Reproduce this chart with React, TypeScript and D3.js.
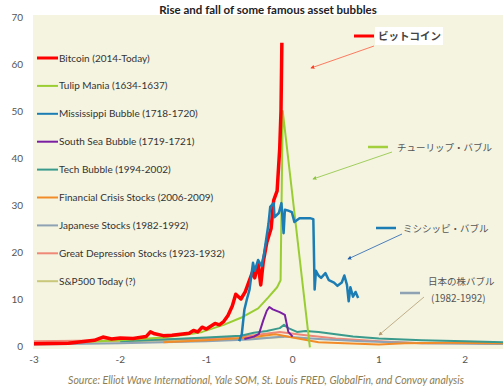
import {useEffect, useRef} from "react";
import * as d3 from "d3";

// x = years relative to peak, y = multiple of start value
const bitcoin = [[-3.0, 0.5], [-2.6, 0.6], [-2.3, 1.2], [-2.2, 1.9], [-2.1, 1.5], [-2.0, 1.7], [-1.85, 1.6], [-1.7, 2.0], [-1.65, 3.0], [-1.6, 2.6], [-1.5, 2.2], [-1.4, 2.3], [-1.3, 2.5], [-1.2, 2.7], [-1.15, 3.3], [-1.1, 3.0], [-1.05, 4.0], [-1.0, 3.6], [-0.95, 4.2], [-0.9, 4.8], [-0.85, 4.5], [-0.8, 5.2], [-0.75, 6.5], [-0.7, 8.5], [-0.66, 11], [-0.6, 10], [-0.55, 11.5], [-0.5, 14], [-0.46, 16], [-0.44, 14.5], [-0.4, 17.5], [-0.37, 13], [-0.34, 18], [-0.3, 22], [-0.25, 25], [-0.22, 31], [-0.18, 33], [-0.15, 42], [-0.135, 50], [-0.125, 64.5]];
const tulip = [[-2.5, 0.8], [-2.0, 1.2], [-1.5, 1.8], [-1.2, 2.5], [-1.05, 3], [-0.8, 4.5], [-0.6, 6], [-0.4, 8], [-0.28, 10.4], [-0.18, 12.5], [-0.14, 14], [-0.115, 50], [0.2, -0.3]];
const mississippi = [[-0.62, 1.0], [-0.59, 2.5], [-0.56, 7.7], [-0.53, 10], [-0.5, 12], [-0.46, 17.7], [-0.44, 16], [-0.4, 18.3], [-0.36, 17], [-0.33, 19.8], [-0.28, 26], [-0.26, 29.6], [-0.22, 30.4], [-0.21, 27.4], [-0.16, 28.3], [-0.13, 30.4], [-0.105, 24], [-0.09, 29], [-0.05, 28.8], [-0.01, 28.5], [0.02, 26.4], [0.08, 27.2], [0.2, 27.2], [0.24, 27], [0.255, 12], [0.27, 16], [0.3, 15], [0.33, 14.5], [0.38, 15.5], [0.42, 14], [0.48, 13.5], [0.52, 12.8], [0.57, 13.5], [0.6, 15], [0.63, 13], [0.65, 9.5], [0.67, 12.5], [0.7, 10.5], [0.73, 11.5], [0.76, 10.2]];
const southSea = [[-0.56, 1.5], [-0.45, 2], [-0.39, 2.6], [-0.34, 5.5], [-0.3, 7.5], [-0.27, 8.3], [-0.23, 7.8], [-0.15, 7.2], [-0.09, 6.6], [-0.05, 3], [0.0, 2]];
const tech = [[-2.0, 1.0], [-1.5, 1.4], [-1.0, 1.8], [-0.6, 2.2], [-0.45, 2.8], [-0.3, 3.2], [-0.15, 3.8], [-0.1, 4.5], [-0.05, 3.8], [0.05, 3.0], [0.15, 3.2], [0.3, 3.0], [0.5, 2.5], [0.7, 2.0], [1.0, 1.6], [1.5, 1.2], [2.0, 1.0], [2.45, 0.8]];
const financial = [[-1.5, 0.8], [-1.0, 1.2], [-0.5, 1.8], [-0.2, 2.5], [0.0, 1.8], [0.3, 0.8], [0.6, 0.6], [1.0, 0.3], [1.3, 0.6], [1.8, 0.7], [2.45, 0.6]];
const japanese = [[-3.0, 0.3], [-2.0, 0.6], [-1.0, 1.0], [-0.5, 1.4], [-0.1, 2.0], [0.3, 1.5], [0.8, 1.0], [1.5, 0.6], [2.45, 0.4]];
const depression = [[-3.0, 1.0], [-2.0, 1.2], [-1.0, 1.6], [-0.5, 2.2], [-0.15, 3.0], [0.1, 2.4], [0.5, 1.6], [1.0, 1.0], [1.5, 0.6], [2.0, 0.6], [2.45, 0.4]];
const sp500 = [[-3.0, 0.8], [-2.0, 1.0], [-1.0, 1.3], [-0.5, 1.6], [-0.1, 1.9]];

const seriesNames = ["Bitcoin (2014-Today)", "Tulip Mania (1634-1637)", "Mississippi Bubble (1718-1720)", "South Sea Bubble (1719-1721)", "Tech Bubble (1994-2002)", "Financial Crisis Stocks (2006-2009)", "Japanese Stocks (1982-1992)", "Great Depression Stocks (1923-1932)", "S&P500 Today (?)"];
const seriesData = [bitcoin, tulip, mississippi, southSea, tech, financial, japanese, depression, sp500];
const seriesColors = ["#ff0000", "#9acd32", "#1b7db3", "#7b1fa2", "#3a9a8c", "#f28c28", "#8ea2b4", "#f08878", "#c9c77a"];
const seriesWidths = [3.5, 2, 2.5, 2, 2, 2, 2, 2, 2];

const xTicks = [-3, -2, -1, 0, 1, 2];
const yTicks = [0, 10, 20, 30, 40, 50, 60, 70];

const App = () => {
    const canvasRef = useRef(null);

    useEffect(() => {
        const svg = d3.select(canvasRef.current);
        svg.selectAll("*").remove();

        const x = d3.scaleLinear().domain([-3, 2.44]).range([34, 503]);
        const y = d3.scaleLinear().domain([0, 70]).range([346, 17]);

        // plot background
        svg.append("rect").attr("x", 33).attr("y", 15).attr("width", 470).attr("height", 334).attr("fill", "#f4f4e1");

        svg.append("clipPath").attr("id", "plot").append("rect")
            .attr("x", 33).attr("y", 15).attr("width", 470).attr("height", 334);

        svg.append("text").attr("x", 268).attr("y", 14).attr("text-anchor", "middle")
            .attr("font-family", "Lato").attr("font-size", 11.5).attr("font-weight", 700).attr("fill", "#222")
            .text("Rise and fall of some famous asset bubbles");

        // axes labels
        svg.selectAll(".yt").data(yTicks).enter().append("text")
            .attr("x", 23).attr("y", d => y(d) + 4).attr("text-anchor", "end")
            .attr("font-family", "Lato").attr("font-size", 10).attr("fill", "#555")
            .text(d => d);
        svg.selectAll(".xt").data(xTicks).enter().append("text")
            .attr("x", d => x(d)).attr("y", 363).attr("text-anchor", "middle")
            .attr("font-family", "Lato").attr("font-size", 10).attr("fill", "#555")
            .text(d => d);

        const line = d3.line().x(d => x(d[0])).y(d => y(d[1])).curve(d3.curveLinear);
        const g = svg.append("g").attr("clip-path", "url(#plot)");
        const order = [8, 7, 6, 5, 4, 3, 1, 0, 2];
        order.forEach(i => {
            g.append("path").attr("d", line(seriesData[i]))
                .attr("fill", "none").attr("stroke", seriesColors[i])
                .attr("stroke-width", seriesWidths[i]).attr("stroke-linejoin", "round");
        });

        // legend
        seriesNames.forEach((name, i) => {
            const ly = 58 + i * 27.9;
            svg.append("line").attr("x1", 37).attr("x2", 58).attr("y1", ly).attr("y2", ly)
                .attr("stroke", seriesColors[i]).attr("stroke-width", i === 0 ? 3 : 2);
            svg.append("text").attr("x", 59).attr("y", ly + 3.5)
                .attr("font-family", "Lato").attr("font-size", 10).attr("fill", "#333")
                .text(name);
        });

        // annotations
        const defs = svg.append("defs");
        const marker = (id, color) => {
            defs.append("marker").attr("id", id).attr("viewBox", "0 0 6 6").attr("refX", 5).attr("refY", 3)
                .attr("markerWidth", 5).attr("markerHeight", 5).attr("orient", "auto")
                .append("path").attr("d", "M0,0L6,3L0,6Z").attr("fill", color);
        };
        marker("mr", "#ff3b1f");
        marker("mg", "#8cc43a");
        marker("mb", "#2060b0");
        marker("mt", "#b49c70");

        svg.append("rect").attr("x", 375).attr("y", 27).attr("width", 68).attr("height", 18).attr("fill", "#fff");
        svg.append("line").attr("x1", 354).attr("x2", 374).attr("y1", 36).attr("y2", 36)
            .attr("stroke", "#ff0000").attr("stroke-width", 3);
        svg.append("text").attr("x", 378).attr("y", 40).attr("font-family", "Noto Sans CJK JP")
            .attr("font-size", 10.5).attr("font-weight", 700).attr("fill", "#444").text("ビットコイン");
        svg.append("line").attr("x1", 374).attr("y1", 46).attr("x2", 311).attr("y2", 68)
            .attr("stroke", "#ff5a3c").attr("stroke-width", 0.8).attr("marker-end", "url(#mr)");

        svg.append("line").attr("x1", 368).attr("x2", 388).attr("y1", 147).attr("y2", 147)
            .attr("stroke", "#a4cf3c").attr("stroke-width", 2.5);
        svg.append("text").attr("x", 397).attr("y", 151).attr("font-family", "Noto Sans CJK JP")
            .attr("font-size", 9.5).attr("fill", "#555").text("チューリップ・バブル");
        svg.append("line").attr("x1", 392).attr("y1", 152).attr("x2", 313).attr("y2", 179)
            .attr("stroke", "#8cc43a").attr("stroke-width", 0.8).attr("marker-end", "url(#mg)");

        svg.append("line").attr("x1", 376).attr("x2", 396).attr("y1", 228).attr("y2", 228)
            .attr("stroke", "#1b7db3").attr("stroke-width", 2.5);
        svg.append("text").attr("x", 403).attr("y", 232).attr("font-family", "Noto Sans CJK JP")
            .attr("font-size", 9.5).attr("fill", "#555").text("ミシシッピ・バブル");
        svg.append("line").attr("x1", 402).attr("y1", 234).attr("x2", 348).attr("y2", 259)
            .attr("stroke", "#2060b0").attr("stroke-width", 0.8).attr("marker-end", "url(#mb)");

        svg.append("line").attr("x1", 400).attr("x2", 420).attr("y1", 293).attr("y2", 293)
            .attr("stroke", "#8ea2b4").attr("stroke-width", 2.5);
        svg.append("text").attr("x", 428).attr("y", 285).attr("font-family", "Noto Sans CJK JP")
            .attr("font-size", 9.5).attr("fill", "#555").text("日本の株バブル");
        svg.append("text").attr("x", 431).attr("y", 302).attr("font-family", "Noto Sans CJK JP")
            .attr("font-size", 10).attr("fill", "#555").text("(1982-1992)");
        svg.append("line").attr("x1", 424).attr("y1", 297).attr("x2", 379).attr("y2", 335)
            .attr("stroke", "#b49c70").attr("stroke-width", 0.8).attr("marker-end", "url(#mt)");

        svg.append("text").attr("x", 266).attr("y", 384).attr("text-anchor", "middle")
            .attr("font-family", "Lato").attr("font-style", "italic").attr("font-size", 10.5).attr("fill", "#8c7d52")
            .text("Source: Elliot Wave International, Yale SOM, St. Louis FRED, GlobalFin, and Convoy analysis");
    }, []);

    return (
        <svg ref={canvasRef} width={503} height={389}
             style={{position: "absolute", left: 0, top: 0, background: "#fff"}}/>
    );
};

export default App;
